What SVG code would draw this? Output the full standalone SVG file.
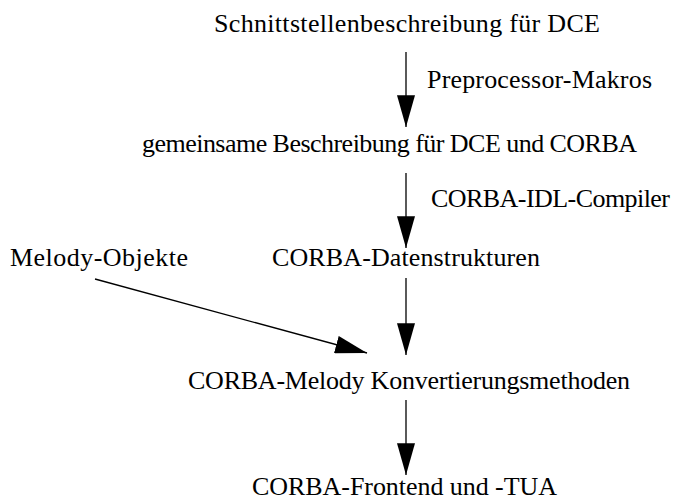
<svg xmlns="http://www.w3.org/2000/svg" width="686" height="501" viewBox="0 0 686 501">
<defs>
<style>
text{font-family:"Liberation Serif","Times New Roman",serif;font-size:26px;fill:#000}
line{stroke:#000;stroke-width:1.3}
</style>
<marker id="ah" markerUnits="userSpaceOnUse" markerWidth="32" markerHeight="18" viewBox="0 0 30 17" refX="30" refY="8.5" orient="auto">
<path d="M0,0 L30,8.5 L0,17 Z" fill="#000"/>
</marker>
</defs>
<rect width="686" height="501" fill="#fff"/>
<g id="n1"><text x="214" y="32" textLength="386">Schnittstellenbeschreibung für DCE</text></g>
<g id="n2"><text x="142" y="152" textLength="495">gemeinsame Beschreibung für DCE und CORBA</text></g>
<g id="n3"><text x="272" y="266" textLength="268">CORBA-Datenstrukturen</text></g>
<g id="n4"><text x="10" y="266" textLength="178">Melody-Objekte</text></g>
<g id="n5"><text x="188" y="389" textLength="442">CORBA-Melody Konvertierungsmethoden</text></g>
<g id="n6"><text x="252" y="495" textLength="305">CORBA-Frontend und -TUA</text></g>
<g id="edges">
<line x1="406" y1="52" x2="406" y2="127" marker-end="url(#ah)"/>
<text x="427" y="88" textLength="225">Preprocessor-Makros</text>
<line x1="406" y1="173" x2="406" y2="248" marker-end="url(#ah)"/>
<text x="431" y="207" textLength="239">CORBA-IDL-Compiler</text>
<line x1="406" y1="278" x2="406" y2="355" marker-end="url(#ah)"/>
<line x1="95" y1="279" x2="367" y2="353" marker-end="url(#ah)"/>
<line x1="406" y1="400" x2="406" y2="475" marker-end="url(#ah)"/>
</g>
</svg>
